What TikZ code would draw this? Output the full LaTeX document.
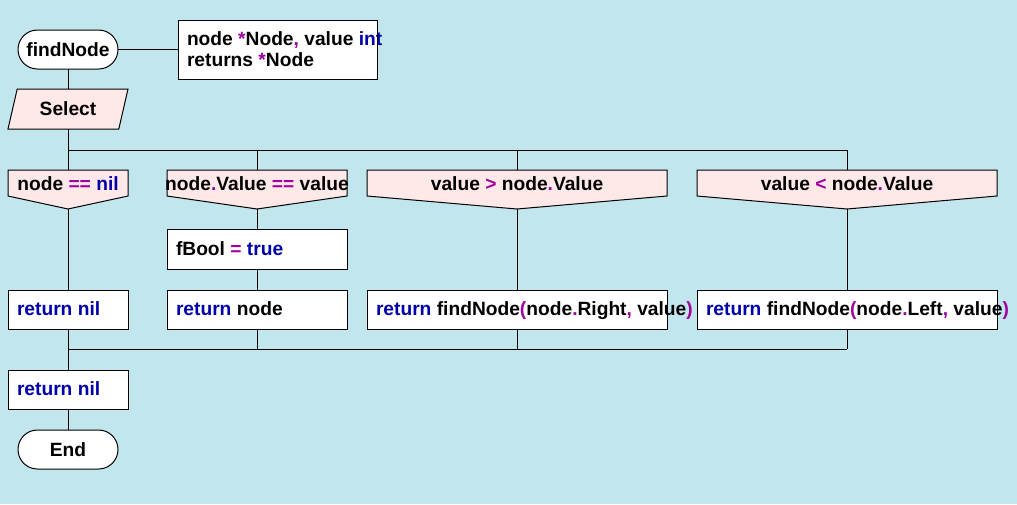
\documentclass[tikz,border=0pt]{standalone}
\usepackage{fontspec}
\setmainfont{Liberation Sans}
\definecolor{bg}{RGB}{194,230,238}
\definecolor{pk}{RGB}{255,232,232}
\definecolor{kw}{RGB}{0,0,170}
\definecolor{op}{RGB}{160,0,160}
\newcommand{\K}[1]{\textcolor{kw}{#1}}
\newcommand{\Op}[1]{\textcolor{op}{#1}}
% box: name, xl, yt, xr, yb, text (left aligned, border drawn over text)
\newcommand{\bx}[6]{%
  \node[shapebox, fill=white, minimum width={(#4-#2)*0.75pt}, minimum height={(#5-#3)*0.75pt}] (#1) at ({(#2+#4)/2},{(#3+#5)/2}) {};
  \node[txt, anchor=base west] (#1t) at ({#2+9},{(#3+#5)/2+6.4}) {#6};
  \draw (#1.north west) rectangle (#1.south east);
}
% header: name, xl, xr, text
\newcommand{\hd}[4]{%
  \node[shapebox, minimum width={(#3-#2)*0.75pt}, minimum height={26*0.75pt}] (#1) at ({(#2+#3)/2},183) {};
  \coordinate (#1v) at ({(#2+#3)/2},209);
  \draw[fill=pk] (#1.north west) -- (#1.north east) -- (#1.south east) -- (#1v) -- (#1.south west) -- cycle;
  \node[txt, anchor=base] (#1t) at ({(#2+#3)/2},190.7) {#4};
}
\begin{document}
\begin{tikzpicture}[x=0.75pt,y=-0.75pt,line width=0.75pt,
  txt/.style={font=\bfseries\fontsize{14.4}{16}\selectfont, inner sep=0pt, outer sep=0pt},
  shapebox/.style={inner sep=0pt, outer sep=0pt},
  term/.style={shapebox, draw, fill=white, rounded corners=14.6pt, minimum width=75pt, minimum height=29.25pt}
]
\fill[bg] (0,0) rectangle (1017,504);
\useasboundingbox (0,0) rectangle (1017,504);

% start terminal
\node[term] (fn) at (68,49.5) {};
\node[txt, anchor=base] (fnt) at (68,56.2) {findNode};

% comment box
\node[shapebox, fill=white, minimum width={199*0.75pt}, minimum height={59*0.75pt}] (cm) at (277.5,49.5) {};
\node[txt, anchor=base west] (cm1) at (187,45.8) {node \Op{*}Node\Op{,} value \K{int}};
\node[txt, anchor=base west] (cm2) at (187,66.8) {returns \Op{*}Node};
\draw (cm.north west) rectangle (cm.south east);
\draw (fn.east) -- (cm.west);

% select (parallelogram)
\node[shapebox, minimum width={120*0.75pt}, minimum height={40*0.75pt}] (sel) at (68,109) {};
\draw[fill=pk] ([xshift=6.9pt]sel.north west) -- (sel.north east) -- ([xshift=-6.9pt]sel.south east) -- (sel.south west) -- cycle;
\node[txt, anchor=base] (selt) at (68,115.8) {Select};
\draw (fn.south) -- (sel.north);

% headers
\hd{h1}{8}{128}{node \Op{==} \K{nil}}
\hd{h2}{167}{347}{node\Op{.}Value \Op{==} value}
\hd{h3}{367}{667}{value \Op{>} node\Op{.}Value}
\hd{h4}{697}{997}{value \Op{<} node\Op{.}Value}

\coordinate (b1) at (68,150);
\coordinate (b2) at (257,150);
\coordinate (b3) at (517,150);
\coordinate (b4) at (847,150);
\draw (sel.south) -- (b1) -- (b4);
\draw (b1) -- (h1.north);
\draw (b2) -- (h2.north);
\draw (b3) -- (h3.north);
\draw (b4) -- (h4.north);

% boxes
\bx{fb}{167}{229}{347}{269}{fBool \Op{=} \K{true}}
\bx{r1}{8}{290}{128}{329}{\K{return nil}}
\bx{r2}{167}{290}{347}{329}{\K{return} node}
\bx{r3}{367}{290}{667}{329}{\K{return} findNode\Op{(}node\Op{.}Right\Op{,} value\Op{)}}
\bx{r4}{697}{290}{997}{329}{\K{return} findNode\Op{(}node\Op{.}Left\Op{,} value\Op{)}}

\draw (h1v) -- (r1.north);
\draw (h2v) -- (fb.north);
\draw (fb.south) -- (r2.north);
\draw (h3v) -- (r3.north);
\draw (h4v) -- (r4.north);

\coordinate (m1) at (68,349);
\coordinate (m2) at (257,349);
\coordinate (m3) at (517,349);
\coordinate (m4) at (847,349);
\draw (r1.south) -- (m1);
\draw (r2.south) -- (m2);
\draw (r3.south) -- (m3);
\draw (r4.south) -- (m4);
\draw (m1) -- (m4);

\bx{r5}{8}{370}{128}{409}{\K{return nil}}
\draw (m1) -- (r5.north);

\node[term] (en) at (68,449.5) {};
\node[txt, anchor=base] (ent) at (68,456.2) {End};
\draw (r5.south) -- (en.north);
\end{tikzpicture}
\end{document}
